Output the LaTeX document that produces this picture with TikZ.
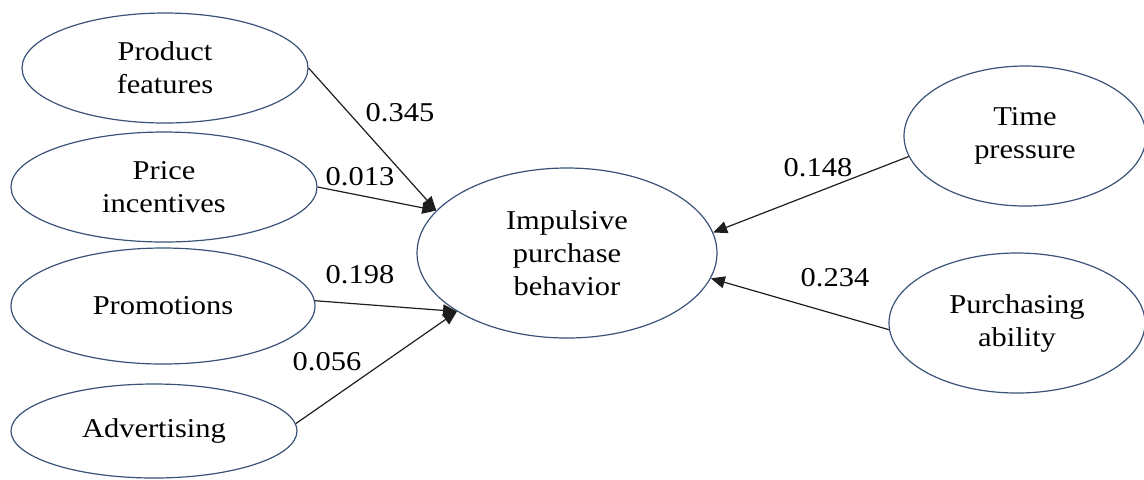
\documentclass[tikz,border=0pt]{standalone}
\usepackage{fontspec}
\setmainfont{Liberation Serif}[FakeStretch=1.12]
\usepackage{tikz}
\usetikzlibrary{arrows.meta,shapes.geometric}
\definecolor{ringblue}{HTML}{3A5278}
\definecolor{linkgray}{HTML}{1E1E1E}

\begin{document}
\begin{tikzpicture}[
  x=0.5pt, y=-0.5pt,
  factor/.style={ellipse, draw=ringblue, line width=0.6pt, inner sep=0pt,
    align=center, font=\fontsize{13.6}{16.5}\selectfont},
  link/.style={-{Triangle[length=7pt,width=6pt]}, draw=linkgray, line width=0.6pt},
  coef/.style={inner sep=0pt, font=\fontsize{13.6}{16.5}\selectfont},
]
  \useasboundingbox (0,0) rectangle (1144,479);

  % predictors on the left
  \node[factor, minimum width=143pt, minimum height=55pt] (feat) at (165,68) {Product\\features};
  \node[factor, minimum width=153pt, minimum height=55pt] (price) at (164,187) {Price\\incentives};
  \node[factor, minimum width=152pt, minimum height=58pt] (promo) at (163,306) {Promotions};
  \node[factor, minimum width=143pt, minimum height=47pt] (advert) at (154,431) {Advertising};

  % outcome
  \node[factor, minimum width=150pt, minimum height=85pt] (impulse) at (567,253) {Impulsive\\purchase\\behavior};

  % predictors on the right
  \node[factor, minimum width=121pt, minimum height=70pt] (time) at (1025,136) {Time\\pressure};
  \node[factor, minimum width=128pt, minimum height=70pt] (ability) at (1017,323) {Purchasing\\ability};

  \draw[link] (feat.east) -- (impulse.162);
  \draw[link] (price.east) -- (impulse.162);
  \draw[link] (promo.2) -- (impulse.208);
  \draw[link] (advert.3) -- (impulse.208);
  \draw[link] (time.190) -- (impulse.8);
  \draw[link] (ability.183) -- (impulse.350);

  % path coefficients
  \node[coef] (cfeat) at (400,113) {0.345};
  \node[coef] (cprice) at (360,177) {0.013};
  \node[coef] (cpromo) at (360,275) {0.198};
  \node[coef] (cadvert) at (327,362) {0.056};
  \node[coef] (ctime) at (818,168) {0.148};
  \node[coef] (cability) at (835,278) {0.234};
\end{tikzpicture}
\end{document}
